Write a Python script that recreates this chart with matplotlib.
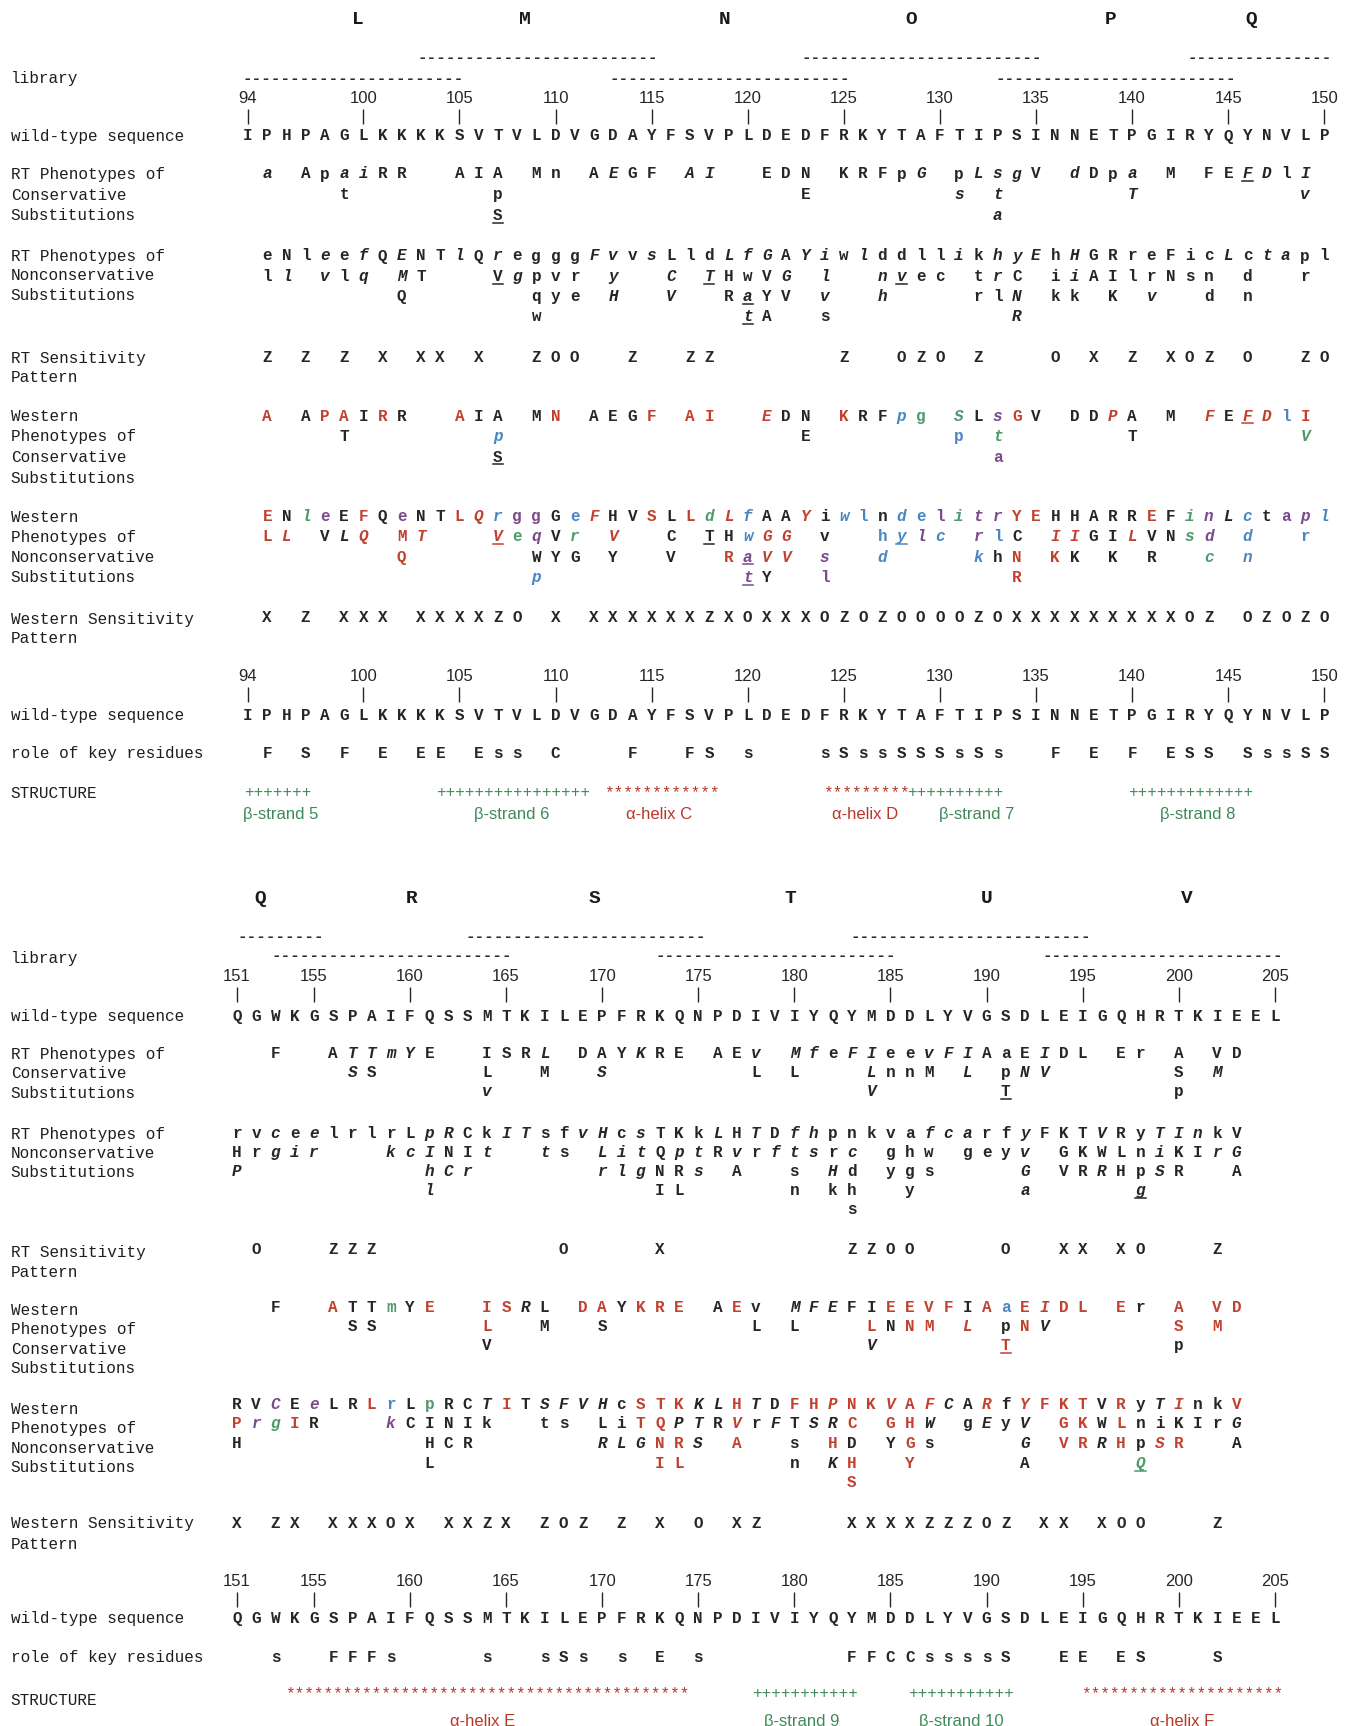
import matplotlib
matplotlib.use("Agg")
import matplotlib.pyplot as plt
from matplotlib.transforms import blended_transform_factory

# ------------------------------------------------------------------
# dados - painel de cima (residuos 94-150)
# formato dos tokens: <residuo><letra>[.flags]  i=italico u=sublinhado
# cores: r=vermelho b=azul g=verde p=roxo (sem cor = preto)
# ------------------------------------------------------------------
top_first = 94
top_wt = "IPHPAGLKKKKSVTVLDVGDAYFSVPLDEDFRKYTAFTIPSINNETPGIRYQYNVLP"
top_ticks = [94, 100, 105, 110, 115, 120, 125, 130, 135, 140, 145, 150]
top_letters = ["L", "M", "N", "O", "P", "Q"]
top_letter_res = [99.7, 108.4, 118.8, 128.5, 138.9, 146.2]
top_lib_start = [102.8, 122.8, 142.9, 93.7, 112.8, 132.9]
top_lib_len = [25, 25, 15, 23, 25, 25]
top_lib_row = [0, 0, 0, 1, 1, 1]

top_rt_cons = [
    "95a.i 97A 98p 99a.i 100i.i 101R 102R 105A 106I 107A 109M 110n 112A 113E.i 114G 115F "
    "117A.i 118I.i 121E 122D 123N 125K 126R 127F 128p 129G.i 131p 132L.i 133s.i 134g.i 135V "
    "137d.i 138D 139p 140a.i 142M 144F 145E 146F.iu 147D.i 148l 149I.i",
    "99t 107p 123E 131s.i 133t.i 140T.i 149v.i",
    "107S.u 133a.i",
]
top_rt_noncons = [
    "95e 96N 97l 98e.i 99e 100f.i 101Q 102E.i 103N 104T 105l.i 106Q 107r.i 108e 109g 110g 111g "
    "112F.i 113v.i 114v 115s.i 116L 117l 118d 119L.i 120f.i 121G.i 122A 123Y.i 124i.i 125w 126l.i "
    "127d 128d 129l 130l 131i.i 132k 133h.i 134y.i 135E.i 136h 137H.i 138G 139R 140r 141e 142F "
    "143i 144c 145L.i 146c 147t.i 148a.i 149p 150l",
    "95l 96l.i 98v.i 99l 100q.i 102M.i 103T 107V.u 108g.i 109p 110v 111r 113y.i 116C.i 118T.iu "
    "119H 120w 121V 122G.i 124l.i 127n.i 128v.iu 129e 130c 132t 133r.i 134C 136i 137i.i 138A "
    "139I 140l 141r 142N 143s 144n 146d 149r",
    "102Q 109q 110y 111e 113H.i 116V.i 119R 120a.iu 121Y 122V 124v.i 127h.i 132r 133l 134N.i "
    "136k 137k 139K 141v.i 144d 146n",
    "109w 120t.iu 121A 124s 134R.i",
]
top_rt_sens = ("95Z 97Z 99Z 101X 103X 104X 106X 109Z 110O 111O 114Z 117Z 118Z 125Z 128O 129Z "
               "130O 132Z 136O 138X 140Z 142X 143O 144Z 146O 149Z 150O")
top_w_cons = [
    "95A.r 97A 98P.r 99A.r 100I 101R.r 102R 105A.r 106I 107A 109M 110N.r 112A 113E 114G 115F.r "
    "117A.r 118I.r 121E.ir 122D 123N 125K.r 126R 127F 128p.ib 129g.g 131S.ig 132L 133s.ip 134G.r "
    "135V 137D 138D 139P.ir 140A 142M 144F.ir 145E 146F.iur 147D.ir 148l.b 149I.r",
    "99T 107p.ib 123E 131p.b 133t.ig 140T 149V.ig",
    "107S.u 133a.p",
]
top_w_noncons = [
    "95E.r 96N 97l.ig 98e.p 99E 100F.r 101Q 102e.p 103N 104T 105L.r 106Q.ir 107r.ib 108g.p 109g.p "
    "110G 111e.b 112F.ir 113H 114V 115S.r 116L 117L.r 118d.ig 119L.ir 120f.ib 121A 122A 123Y.ir "
    "124i 125w.ib 126l.b 127n 128d.ib 129e.b 130l.p 131i.ig 132t.ip 133r.ip 134Y.r 135E.r 136H "
    "137H 138A 139R 140R 141E.r 142F 143i.ig 144n.ip 145L.i 146c.ib 147t 148a.p 149p.ip 150l.ib",
    "95L.r 96L.ir 98V 99L.i 100Q.ir 102M.r 103T.ir 107V.iur 108e.g 109q.ip 110V 111r.ig 113V.ir "
    "116C 118T.u 119H 120w.ib 121G.ir 122G.ir 124v 127h.b 128y.ibu 129l.ip 130c.ib 132r.ip 133l.b "
    "134C 136I.ir 137I.ir 138G 139I 140L.ir 141V 142N 143s.ig 144d.ip 146d.ib 149r.b",
    "102Q.r 109W 110Y 111G 113Y 116V 119R.r 120a.iup 121V.ir 122V.ir 124s.ip 127d.ib 132k.ib "
    "133h 134N.r 136K.r 137K 139K 141R 144c.ig 146n.ib",
    "109p.ib 120t.iup 121Y 124l.p 134R.r",
]
top_w_sens = ("95X 97Z 99X 100X 101X 103X 104X 105X 106X 107Z 108O 110X 112X 113X 114X 115X 116X "
              "117X 118Z 119X 120O 121X 122X 123X 124O 125Z 126O 127Z 128O 129O 130O 131O 132Z "
              "133O 134X 135X 136X 137X 138X 139X 140X 141X 142X 143O 144Z 146O 147Z 148O 149Z 150O")
top_role = ("95F 97S 99F 101E 103E 104E 106E 107s 108s 110C 114F 117F 118S 120s 124s 125S 126s "
            "127s 128S 129S 130S 131s 132S 133s 136F 138E 140F 142E 143S 144S 146S 147s 148s 149S 150S")
top_struct_kind = ["+", "+", "*", "*", "+", "+"]
top_struct_start = [93.8, 103.8, 112.5, 123.9, 128.3, 139.8]
top_struct_n = [7, 16, 12, 9, 10, 13]
top_struct_label = ["β-strand 5", "β-strand 6", "α-helix C", "α-helix D", "β-strand 7", "β-strand 8"]
top_struct_label_res = [95.7, 107.7, 115.4, 126.1, 131.9, 143.4]

# ------------------------------------------------------------------
# dados - painel de baixo (residuos 151-205)
# ------------------------------------------------------------------
bot_first = 151
bot_wt = "QGWKGSPAIFQSSMTKILEPFRKQNPDIVIYQYMDDLYVGSDLEIGQHRTKIEEL"
bot_ticks = [151, 155, 160, 165, 170, 175, 180, 185, 190, 195, 200, 205]
bot_letters = ["Q", "R", "S", "T", "U", "V"]
bot_letter_res = [152.2, 160.1, 169.6, 179.8, 190.0, 200.4]
bot_lib_start = [151.0, 162.9, 182.9, 152.8, 172.8, 192.9]
bot_lib_len = [9, 25, 25, 25, 25, 25]
bot_lib_row = [0, 0, 0, 1, 1, 1]

bot_rt_cons = [
    "153F 156A 157T.i 158T.i 159m.i 160Y.i 161E 164I 165S 166R 167L.i 169D 170A 171Y 172K.i 173R "
    "174E 176A 177E 178v.i 180M.i 181f.i 182e 183F.i 184I.i 185e 186e 187v.i 188F.i 189I.i 190A "
    "191a 192E 193I.i 194D 195L 197E 198r 200A 202V 203D",
    "157S.i 158S 164L 167M 170S.i 178L 180L 184L.i 185n 186n 187M 189L.i 191p 192N.i 193V.i 200S 202M.i",
    "164v.i 184V.i 191T.u 200p",
]
bot_rt_noncons = [
    "151r 152v 153c.i 154e 155e.i 156l 157r 158l 159r 160L 161p.i 162R.i 163C 164k 165I.i 166T.i "
    "167s 168f 169v.i 170H.i 171c 172s.i 173T 174K 175k 176L.i 177H 178T.i 179D 180f.i 181h.i 182p "
    "183n 184k 185v 186a 187f.i 188c.i 189a.i 190r 191f 192y.i 193F 194K 195T 196V.i 197R 198y "
    "199T.i 200I.i 201n.i 202k 203V",
    "151H 152r 153g.i 154i.i 155r.i 159k.i 160c.i 161I.i 162N 163I 164t.i 167t.i 168s 170L.i 171i.i "
    "172t.i 173Q 174p.i 175t.i 176R 177v.i 178r 179f.i 180t.i 181s.i 182r 183c.i 185g 186h 187w "
    "189g 190e 191y 192v.i 194G 195K 196W 197L 198n 199i.i 200K 201I 202r.i 203G.i",
    "151P.i 161h.i 162C.i 163r.i 170r.i 171l.i 172g.i 173N 174R 175s.i 177A 180s 182H.i 183d 185y "
    "186g 187s 192G.i 194V 195R 196R.i 197H 198p 199S.i 200R 203A",
    "161l.i 173I 174L 180n 182k 183h 186y 192a.i 198g.iu",
    "183s",
]
bot_rt_sens = "152O 156Z 157Z 158Z 168O 173X 183Z 184Z 185O 186O 191O 194X 195X 197X 198O 202Z"
bot_w_cons = [
    "153F 156A.r 157T 158T 159m.g 160Y 161E.r 164I.r 165S.r 166R.i 167L 169D.r 170A.r 171Y 172K.r "
    "173R.r 174E.r 176A 177E.r 178v 180M.i 181F.i 182E.i 183F 184I 185E.r 186E.r 187V.r 188F.r "
    "189I 190A.r 191a.b 192E.r 193I.ir 194D.r 195L.r 197E.r 198r 200A.r 202V.r 203D.r",
    "157S 158S 164L.r 167M 170S 178L 180L 184L.r 185N 186N.r 187M.r 189L.ir 191p 192N.r 193V.i "
    "200S.r 202M.r",
    "164V 184V.i 191T.ur 200p",
]
bot_w_noncons = [
    "151R 152V 153C.ip 154E 155e.ip 156L 157R 158L.r 159r.b 160L 161p.g 162R 163C 164T.i 165I.r "
    "166T 167S.i 168F.i 169V.i 170H.i 171c 172S.r 173T.r 174K.r 175K.i 176L.i 177H.r 178T.i 179D "
    "180F.r 181H.r 182P.ir 183N.r 184K.r 185V.ir 186A.r 187F.ir 188C.i 189A 190R.ir 191f 192Y.ir "
    "193F.r 194K.r 195T.r 196V 197R.r 198y 199T.i 200I.ir 201n 202k 203V.r",
    "151P.r 152r.ip 153g.ig 154I.r 155R 159k.ip 160C 161I 162N 163I 164k 167t 168s 170L 171i "
    "172T.r 173Q.r 174P.i 175T.i 176R 177V.ir 178r 179F.i 180T 181S.i 182R.i 183C.r 185G.r 186H.r "
    "187W.i 189g 190E.i 191y 192V.i 194G.r 195K.r 196W 197L.r 198n 199i 200K 201I 202r 203G.i",
    "151H 161H 162C 163R 170R.i 171L.i 172G.i 173N.r 174R.r 175S.i 177A.r 180s 182H.r 183D 185Y "
    "186G.r 187s 192G.i 194V.r 195R.r 196R.i 197H.r 198p 199S.ir 200R.r 203A",
    "161L 173I.r 174L.r 180n 182K.i 183H.r 186Y.r 192A 198Q.iug",
    "183S.r",
]
bot_w_sens = ("151X 153Z 154X 156X 157X 158X 159O 160X 162X 163X 164Z 165X 167Z 168O 169Z 171Z "
              "173X 175O 177X 178Z 183X 184X 185X 186X 187Z 188Z 189Z 190O 191Z 193X 194X 196X "
              "197O 198O 202Z")
bot_role = ("153s 156F 157F 158F 159s 164s 167s 168S 169s 171s 173E 175s 183F 184F 185C 186C "
            "187s 188s 189s 190s 191S 194E 195E 197E 198S 202S")
bot_struct_kind = ["*", "+", "+", "*"]
bot_struct_start = [153.5, 177.8, 185.9, 194.9]
bot_struct_n = [42, 11, 11, 21]
bot_struct_label = ["α-helix E", "β-strand 9", "β-strand 10", "α-helix F"]
bot_struct_label_res = [163.8, 180.4, 188.7, 200.2]

row_labels = ["library", "wild-type sequence", "RT Phenotypes of\nConservative\nSubstitutions",
              "RT Phenotypes of\nNonconservative\nSubstitutions", "RT Sensitivity\nPattern",
              "Western\nPhenotypes of\nConservative\nSubstitutions",
              "Western\nPhenotypes of\nNonconservative\nSubstitutions",
              "Western Sensitivity\nPattern", "wild-type sequence", "role of key residues", "STRUCTURE"]

# ------------------------------------------------------------------
# estilo
# ------------------------------------------------------------------
MONO = ["Liberation Mono", "DejaVu Sans Mono"]
NARROW = ["Liberation Sans Narrow", "Liberation Sans", "DejaVu Sans"]
TXT = "#262626"
CORES = {"k": TXT, "r": "#c2402e", "b": "#4a86c2", "g": "#4f9a6c", "p": "#7a4a8c"}
VERDE = "#3f8a58"
VERMELHO = "#b8372b"
FS = 11.5
PX_RES = 19.22   # pixels por residuo
W, H = 1350, 1726


def parse(s):
    out = []
    for tok in s.split():
        head, _, fl = tok.partition(".")
        out.append((int(head[:-1]), head[-1], fl))
    return out


def letra(ax, r, y, ch, fl=""):
    cor = CORES[next((c for c in fl if c in "rbgp"), "k")]
    ax.text(r, y + 4.5, ch, fontsize=FS, family=MONO, weight="bold",
            style="italic" if "i" in fl else "normal", color=cor, ha="center", va="baseline")
    if "u" in fl:
        ax.plot([r - 0.27, r + 0.27], [y + 7.5, y + 7.5], color=cor, lw=1.1)


def linha(ax, s, y):
    for r, ch, fl in parse(s):
        letra(ax, r, y, ch, fl)


def bloco(ax, rows, y0, dy):
    for i, s in enumerate(rows):
        linha(ax, s, y0 + i * dy)


def sequencia(ax, first, wt, ticks, y_num, y_wt):
    for i, ch in enumerate(wt):
        letra(ax, first + i, y_wt, ch)
    for t in ticks:
        ax.text(t, y_num + 6, str(t), fontsize=12, family=NARROW, color=TXT, ha="center", va="baseline")
    ax.vlines(ticks, y_num + 12, y_num + 27, color=TXT, lw=1.0)


def painel(ax, d, ly):
    lbl = blended_transform_factory(ax.transAxes, ax.transData)
    # letras das bibliotecas e tracejados
    for L, r in zip(d["letters"], d["letter_res"]):
        ax.text(r, ly["letters"] + 6, L, fontsize=14, family=MONO, weight="bold",
                color="#1a1a1a", ha="center", va="baseline")
    for s, n, row in zip(d["lib_start"], d["lib_len"], d["lib_row"]):
        ax.text(s, ly["lib"][row] + 4, "-" * n, fontsize=FS, family=MONO, weight="bold",
                color="#2a2a2a", ha="left", va="baseline")
    # sequencia selvagem (2x)
    sequencia(ax, d["first"], d["wt"], d["ticks"], ly["num1"], ly["wt1"])
    sequencia(ax, d["first"], d["wt"], d["ticks"], ly["num2"], ly["wt2"])
    bloco(ax, d["rt_cons"], ly["rt_cons"], ly["dy_rc"])
    bloco(ax, d["rt_noncons"], ly["rt_noncons"], ly["dy_rn"])
    linha(ax, d["rt_sens"], ly["rt_sens"])
    bloco(ax, d["w_cons"], ly["w_cons"], ly["dy_wc"])
    bloco(ax, d["w_noncons"], ly["w_noncons"], ly["dy_wn"])
    linha(ax, d["w_sens"], ly["w_sens"])
    linha(ax, d["role"], ly["role"])
    # estrutura secundaria
    for k, s, n in zip(d["s_kind"], d["s_start"], d["s_n"]):
        ax.text(s, ly["struct"] + 5, k * n, fontsize=FS, family=MONO,
                color=VERDE if k == "+" else VERMELHO, ha="left", va="baseline")
    for t, r in zip(d["s_label"], d["s_label_res"]):
        ax.text(r, ly["s_lab"] + 6, t, fontsize=12, family=NARROW,
                color=VERDE if t.startswith("β") else VERMELHO, ha="center", va="baseline")
    # rotulos da esquerda
    for txt, y0, dy in zip(row_labels, ly["labels"], ly["label_dy"]):
        for j, part in enumerate(txt.split("\n")):
            ax.text(0.008, y0 + j * dy + 4.5, part, fontsize=FS, family=MONO,
                    color="#1e1e1e", ha="left", va="baseline", transform=lbl)


fig = plt.figure(figsize=(W / 100, H / 100), dpi=100)

top = dict(first=top_first, wt=top_wt, ticks=top_ticks, letters=top_letters, letter_res=top_letter_res,
           lib_start=top_lib_start, lib_len=top_lib_len, lib_row=top_lib_row,
           rt_cons=top_rt_cons, rt_noncons=top_rt_noncons, rt_sens=top_rt_sens,
           w_cons=top_w_cons, w_noncons=top_w_noncons, w_sens=top_w_sens, role=top_role,
           s_kind=top_struct_kind, s_start=top_struct_start, s_n=top_struct_n,
           s_label=top_struct_label, s_label_res=top_struct_label_res)
bot = dict(first=bot_first, wt=bot_wt, ticks=bot_ticks, letters=bot_letters, letter_res=bot_letter_res,
           lib_start=bot_lib_start, lib_len=bot_lib_len, lib_row=bot_lib_row,
           rt_cons=bot_rt_cons, rt_noncons=bot_rt_noncons, rt_sens=bot_rt_sens,
           w_cons=bot_w_cons, w_noncons=bot_w_noncons, w_sens=bot_w_sens, role=bot_role,
           s_kind=bot_struct_kind, s_start=bot_struct_start, s_n=bot_struct_n,
           s_label=bot_struct_label, s_label_res=bot_struct_label_res)

ly_top = dict(letters=18, lib=[58, 79], num1=97, wt1=136, rt_cons=174, dy_rc=20.7,
              rt_noncons=256, dy_rn=20.3, rt_sens=357, w_cons=416, dy_wc=20.5,
              w_noncons=516, dy_wn=20.5, w_sens=617, num2=675, wt2=715, role=753,
              struct=792, s_lab=813,
              labels=[79, 136, 174, 256, 359, 416, 517, 619, 715, 753, 793],
              label_dy=[0, 0, 21, 19.5, 19, 20.7, 20.3, 19, 0, 0, 0])
ly_bot = dict(letters=897, lib=[937, 956], num1=975, wt1=1016, rt_cons=1053, dy_rc=19,
              rt_noncons=1133, dy_rn=19.2, rt_sens=1249, w_cons=1307, dy_wc=19,
              w_noncons=1404, dy_wn=19.7, w_sens=1523, num2=1580, wt2=1618, role=1657,
              struct=1693, s_lab=1720,
              labels=[958, 1016, 1054, 1134, 1252, 1310, 1409, 1523, 1618, 1657, 1700],
              label_dy=[0, 0, 19.5, 19, 20, 19.5, 19.5, 21, 0, 0, 0])

for d, ly in [(top, ly_top), (bot, ly_bot)]:
    ax = fig.add_axes([0, 0, 1, 1])
    x0 = d["first"] - (248 if d is top else 237) / PX_RES
    ax.set_xlim(x0, x0 + W / PX_RES)
    ax.set_ylim(H, 0)
    ax.axis("off")
    painel(ax, d, ly)

plt.savefig("out.png", dpi=100, facecolor="white")
